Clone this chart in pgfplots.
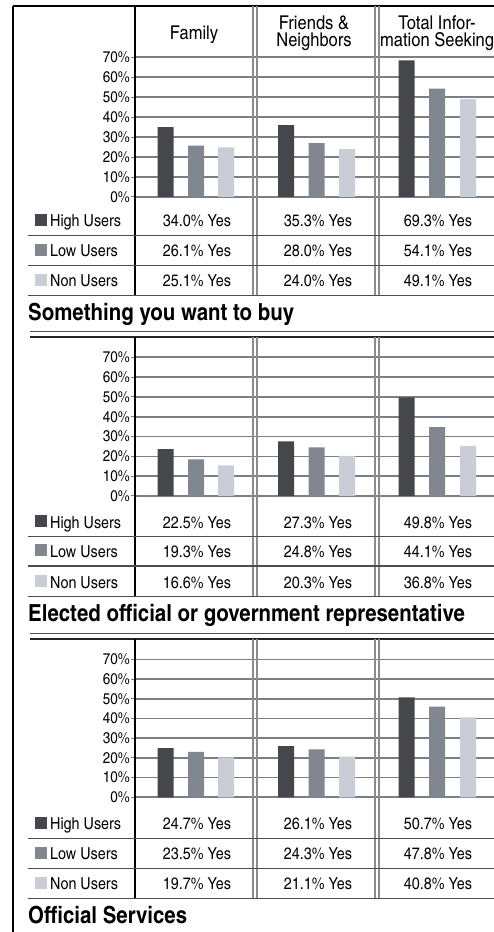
\documentclass[border=0pt]{standalone}
\usepackage{pgfplots}
\pgfplotsset{compat=1.18}
\usepackage{fontspec}
\setmainfont{texgyreheroscn}[Extension=.otf, UprightFont=*-regular, BoldFont=*-bold, ItalicFont=*-italic, BoldItalicFont=*-bolditalic, FakeStretch=1.06]
\definecolor{highc}{HTML}{46474C}
\definecolor{lowc}{HTML}{80878F}
\definecolor{nonc}{HTML}{C9CDD5}
\definecolor{gridc}{HTML}{7A7E85}
\definecolor{rowc}{HTML}{4A4D52}
\definecolor{dblc}{HTML}{8C8C8C}
\newcommand{\hdfont}{\fontsize{19}{20}\selectfont}
\newcommand{\tabfont}{\fontsize{16.5}{18}\selectfont}
\newcommand{\ttlfont}{\bfseries\fontsize{23.5}{26}\selectfont}
\pgfplotsset{panel/.style={
  scale only axis, width=359pt, xmin=135, xmax=494, ymin=0, ymax=70,
  axis line style={draw=none}, xtick=\empty, ytick={0,10,...,70}, ytick pos=left,
  ymajorgrids, grid style={color=gridc, line width=1.6pt},
  major tick length=4pt, tick align=outside, ytick style={color=gridc, line width=1pt},
  yticklabel={\pgfmathprintnumber{\tick}\%},
  yticklabel style={font=\fontsize{15.5}{15.5}\selectfont, inner sep=1pt},
  /pgf/number format/assume math mode=true,
  ybar, bar width=16pt, anchor=south west}}
% row macro: line Y, colour, label, three values
\newcommand{\row}[6]{%
  \fill[#2] (35,{#1+9.5}) rectangle ++(12,12);
  \node[anchor=base west, font=\tabfont, inner sep=0pt] at (50,{#1+8.5}) {#3};
  \node[anchor=base, font=\tabfont, inner sep=0pt] at (197,{#1+8.5}) {#4\% Yes};
  \node[anchor=base, font=\tabfont, inner sep=0pt] at (318,{#1+8.5}) {#5\% Yes};
  \node[anchor=base, font=\tabfont, inner sep=0pt] at (438,{#1+8.5}) {#6\% Yes};
  \draw[rowc, line width=1.2pt] (28,#1) -- (494,#1);}
\newcommand{\vlines}[2]{%
  \draw[black, line width=1.3pt] (135,#1) -- (135,#2);
  \foreach \xx in {253,257,375,379} {\draw[dblc, line width=1.3pt] (\xx,#1) -- (\xx,#2);}}
\begin{document}
\begin{tikzpicture}[x=1pt, y=1pt]
\path[use as bounding box] (0,0) rectangle (494,932);
% ---------- Panel 1 ----------
\begin{axis}[panel, at={(135pt,735pt)}, height=139.7pt]
\addplot[fill=highc, draw=none, bar shift=0pt] coordinates {(165.5,35) (286,36) (406.5,68.5)};
\addplot[fill=lowc, draw=none, bar shift=0pt] coordinates {(196,25.8) (316.5,27) (437,54.3)};
\addplot[fill=nonc, draw=none, bar shift=0pt] coordinates {(226,24.8) (347,24) (468,49)};
\end{axis}
% ---------- Panel 2 ----------
\begin{axis}[panel, at={(135pt,436pt)}, height=138.7pt]
\addplot[fill=highc, draw=none, bar shift=0pt] coordinates {(165.5,23.6) (286,27.6) (406.5,49.8)};
\addplot[fill=lowc, draw=none, bar shift=0pt] coordinates {(196,18.5) (316.5,24.6) (437,34.7)};
\addplot[fill=nonc, draw=none, bar shift=0pt] coordinates {(226,15.5) (347,20.2) (468,25.3)};
\end{axis}
% ---------- Panel 3 ----------
\begin{axis}[panel, at={(135pt,134.7pt)}, height=138pt]
\addplot[fill=highc, draw=none, bar shift=0pt] coordinates {(165.5,25) (286,26) (406.5,50.7)};
\addplot[fill=lowc, draw=none, bar shift=0pt] coordinates {(196,23) (316.5,24.3) (437,46)};
\addplot[fill=nonc, draw=none, bar shift=0pt] coordinates {(226,20.2) (347,20.6) (468,40.6)};
\end{axis}
% outer frame
\draw[black, line width=1.8pt] (13,926) -- (494,926);
\draw[black, line width=1.8pt] (13,926) -- (13,0);
% headers
\node[anchor=base, font=\hdfont, inner sep=0pt] at (194,892.7) {Family};
\node[anchor=base, font=\hdfont, inner sep=0pt] at (314,902.5) {Friends \&};
\node[anchor=base, font=\hdfont, inner sep=0pt] at (314,885.3) {Neighbors};
\node[anchor=base, font=\hdfont, inner sep=0pt] at (437,902.5) {Total Infor-};
\node[anchor=base west, font=\hdfont, inner sep=0pt] at (380,885.3) {mation Seeking};
% panel 1 table
\vlines{926}{636.7}
\row{696.7}{highc}{High Users}{34.0}{35.3}{69.3}
\row{666.7}{lowc}{Low Users}{26.1}{28.0}{54.1}
\row{636.7}{nonc}{Non Users}{25.1}{24.0}{49.1}
\node[anchor=base west, font=\ttlfont, inner sep=0pt] at (28,611.3) {Something you want to buy};
% panel 2
\draw[rowc, line width=1pt] (30,600.3) -- (494,600.3);
\draw[black!85, line width=2pt] (30,594.7) -- (494,594.7);
\vlines{594.7}{335.3}
\row{395.3}{highc}{High Users}{22.5}{27.3}{49.8}
\row{366}{lowc}{Low Users}{19.3}{24.8}{44.1}
\row{335.3}{nonc}{Non Users}{16.6}{20.3}{36.8}
\node[anchor=base west, font=\ttlfont, inner sep=0pt] at (28,310.3) {Elected official or government representative};
% panel 3
\draw[rowc, line width=1pt] (30,298.7) -- (494,298.7);
\draw[black!85, line width=2pt] (30,292.7) -- (494,292.7);
\vlines{292.7}{33.7}
\row{93.7}{highc}{High Users}{24.7}{26.1}{50.7}
\row{63.7}{lowc}{Low Users}{23.5}{24.3}{47.8}
\row{33.7}{nonc}{Non Users}{19.7}{21.1}{40.8}
\node[anchor=base west, font=\ttlfont, inner sep=0pt] at (28,8.7) {Official Services};
\end{tikzpicture}
\end{document}
